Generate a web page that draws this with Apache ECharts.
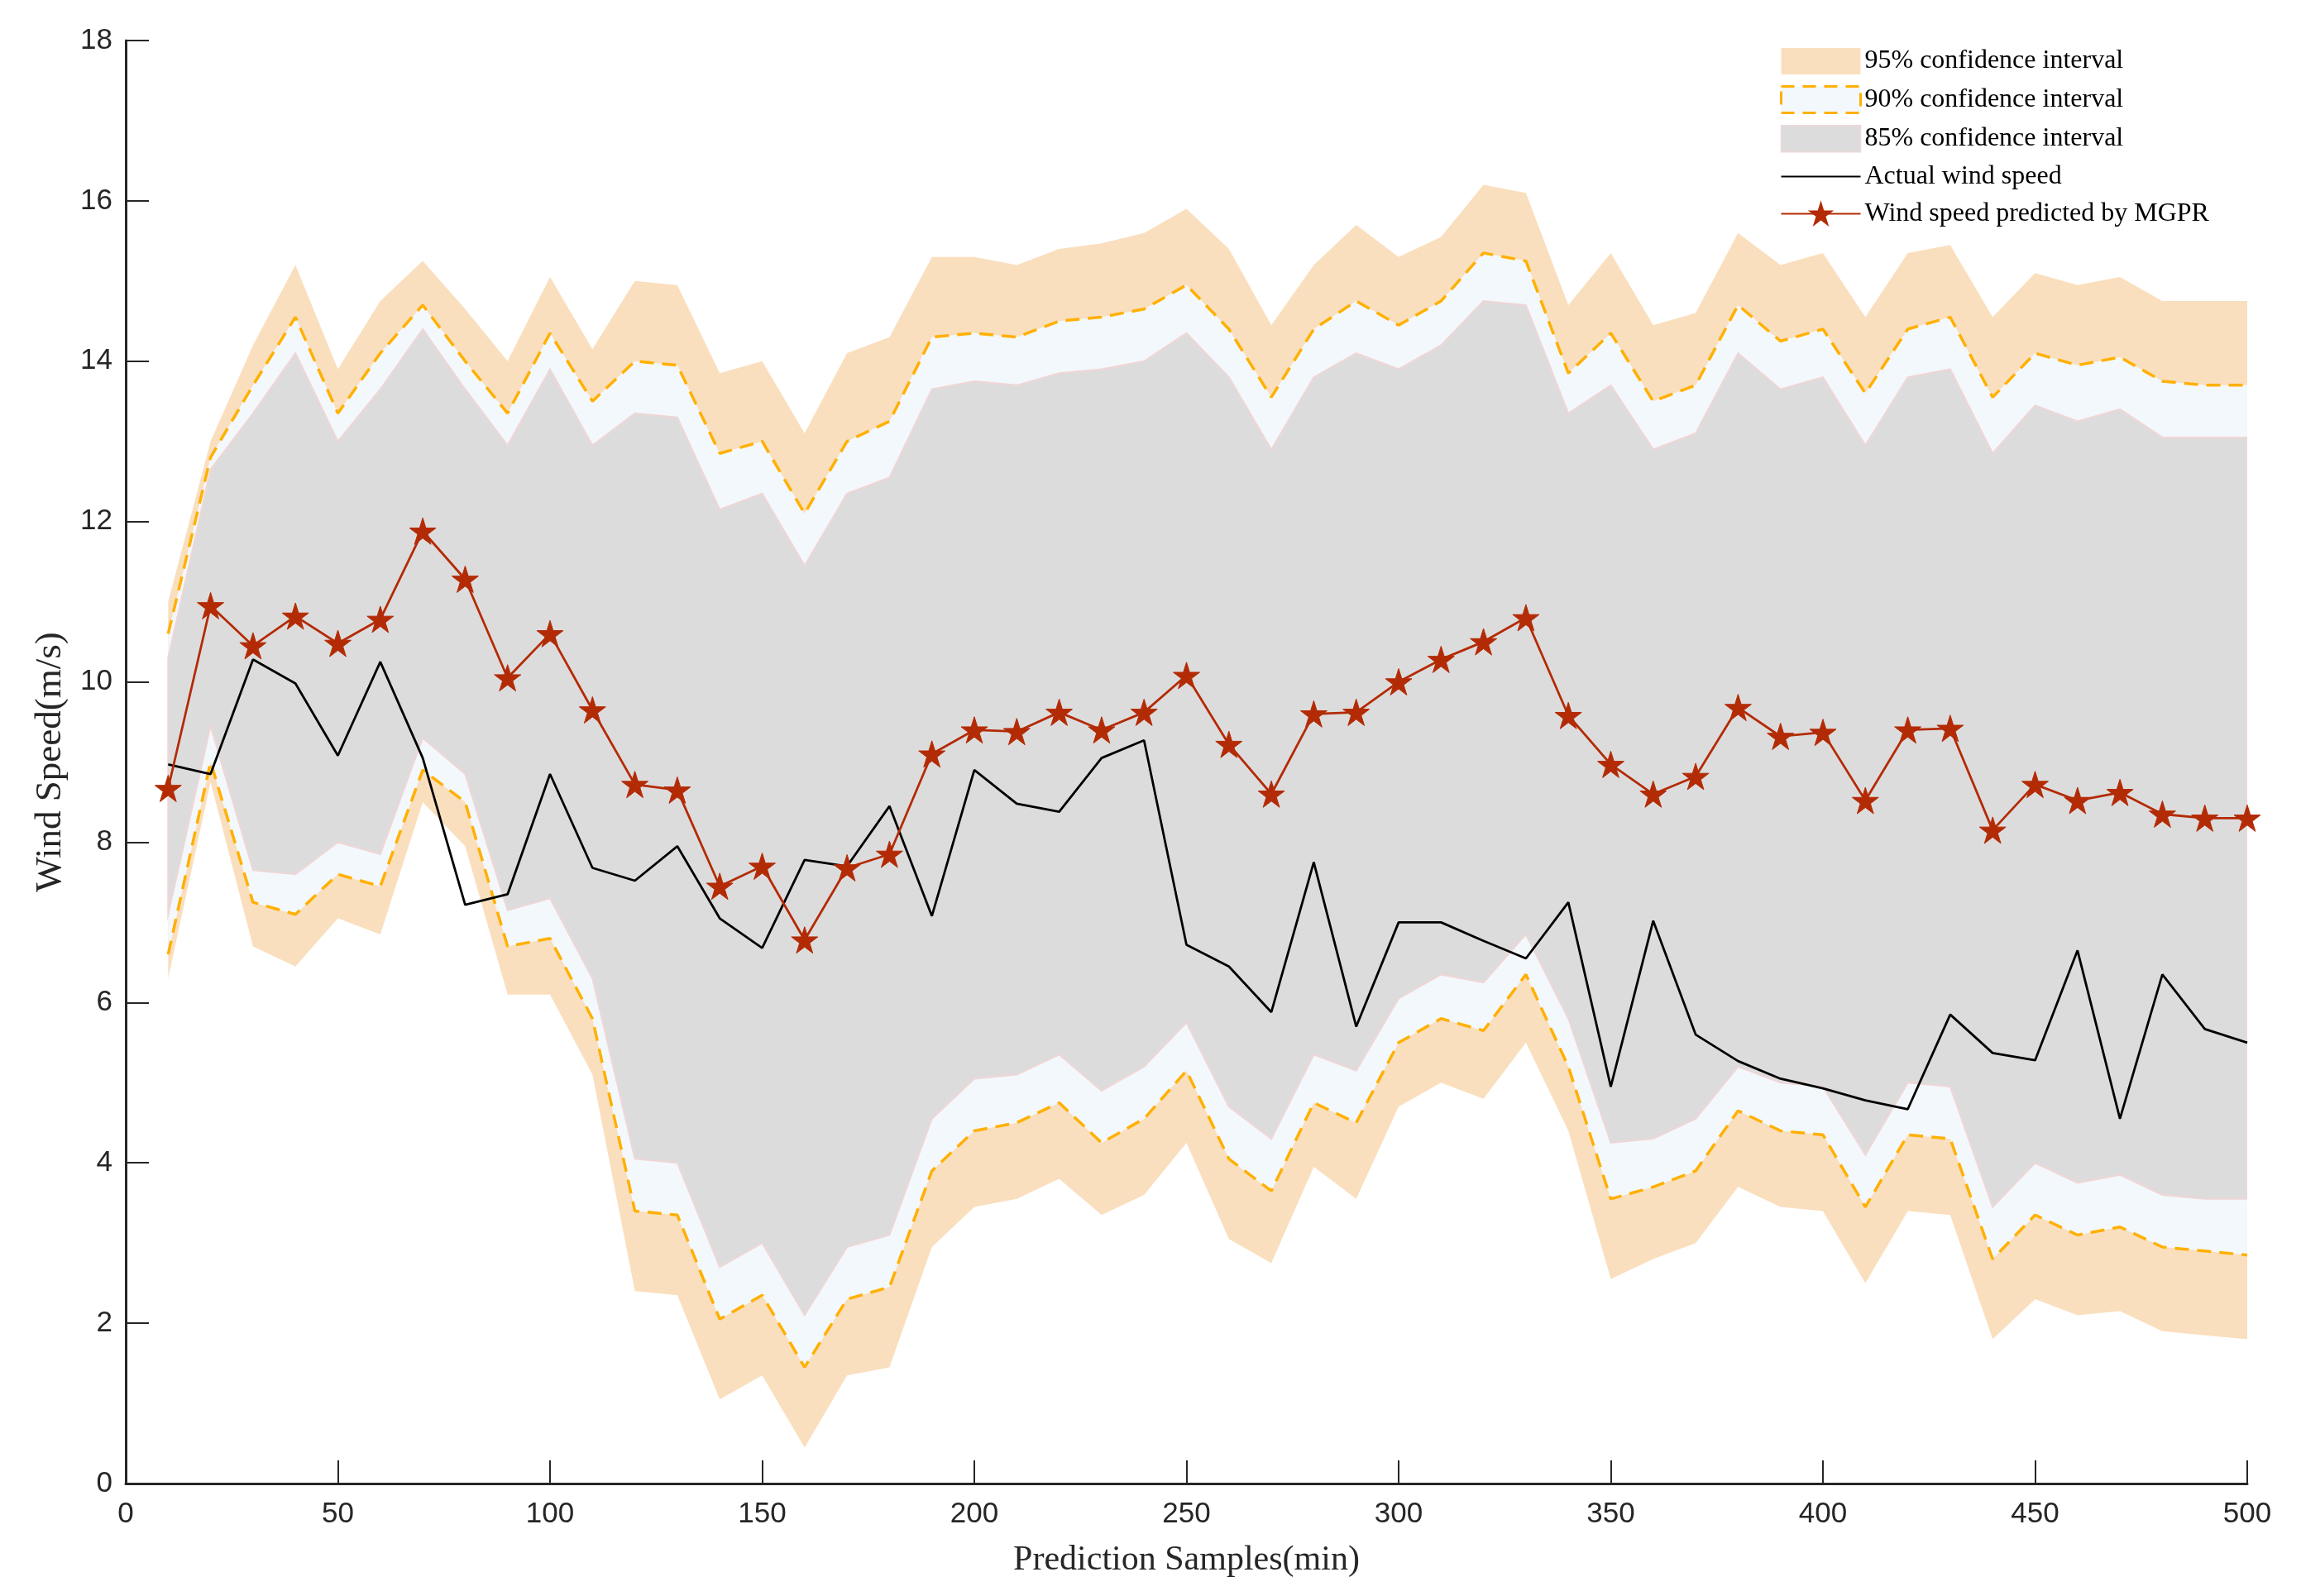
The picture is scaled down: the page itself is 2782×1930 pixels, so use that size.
<!DOCTYPE html>
<html><head><meta charset="utf-8">
<script src="https://cdn.jsdelivr.net/npm/echarts@6/dist/echarts.min.js"></script>
<style>html,body{margin:0;padding:0;background:#fff}#c{width:2782px;height:1930px}</style>
</head><body><div id="c"></div>
<script>
const samples = [10,20,30,40,50,60,70,80,90,100,110,120,130,140,150,160,170,180,190,200,210,220,230,240,250,260,270,280,290,300,310,320,330,340,350,360,370,380,390,400,410,420,430,440,450,460,470,480,490,500];
const xTicks = [0,50,100,150,200,250,300,350,400,450,500];
const yTicks = [0,2,4,6,8,10,12,14,16,18];

const predicted = [8.67,10.95,10.45,10.82,10.48,10.78,11.88,11.28,10.05,10.6,9.65,8.72,8.65,7.45,7.7,6.78,7.68,7.85,9.1,9.4,9.38,9.62,9.4,9.62,10.08,9.22,8.6,9.6,9.62,10.0,10.28,10.5,10.8,9.58,8.97,8.6,8.82,9.68,9.32,9.37,8.52,9.4,9.42,8.15,8.72,8.52,8.62,8.35,8.3,8.3];
const actual = [8.97,8.85,10.28,9.98,9.08,10.25,9.05,7.22,7.35,8.85,7.68,7.52,7.95,7.05,6.68,7.78,7.7,8.45,7.08,8.9,8.48,8.38,9.05,9.27,6.72,6.45,5.88,7.75,5.7,7.0,7.0,6.77,6.55,7.25,4.95,7.02,5.6,5.27,5.05,4.93,4.78,4.67,5.85,5.37,5.28,6.65,4.55,6.35,5.67,5.5];

const upper95 = [11.0,13.0,14.2,15.2,13.9,14.75,15.25,14.65,14.0,15.05,14.15,15.0,14.95,13.85,14.0,13.1,14.1,14.3,15.3,15.3,15.2,15.4,15.47,15.6,15.9,15.4,14.45,15.2,15.7,15.3,15.55,16.2,16.1,14.7,15.35,14.45,14.6,15.6,15.2,15.35,14.55,15.35,15.45,14.55,15.1,14.95,15.05,14.75,14.75,14.75];
const upper90 = [10.6,12.8,13.7,14.55,13.35,14.1,14.7,14.0,13.35,14.35,13.5,14.0,13.95,12.85,13.0,12.1,13.0,13.25,14.3,14.35,14.3,14.5,14.55,14.65,14.95,14.4,13.55,14.4,14.75,14.45,14.75,15.35,15.25,13.85,14.35,13.5,13.7,14.7,14.25,14.4,13.6,14.4,14.55,13.55,14.1,13.95,14.05,13.75,13.7,13.7];
const upper85 = [10.3,12.65,13.35,14.1,13.0,13.65,14.4,13.65,12.95,13.9,12.95,13.35,13.3,12.15,12.35,11.45,12.35,12.55,13.65,13.75,13.7,13.85,13.9,14.0,14.35,13.8,12.9,13.8,14.1,13.9,14.2,14.75,14.7,13.35,13.7,12.9,13.1,14.1,13.65,13.8,12.95,13.8,13.9,12.85,13.45,13.25,13.4,13.05,13.05,13.05];
const lower85 = [7.1,9.45,7.65,7.6,8.0,7.85,9.3,8.85,7.15,7.3,6.3,4.05,4.0,2.7,3.0,2.1,2.95,3.1,4.55,5.05,5.1,5.35,4.9,5.2,5.75,4.7,4.3,5.35,5.15,6.05,6.35,6.25,6.85,5.8,4.25,4.3,4.55,5.2,5.0,4.95,4.1,5.0,4.95,3.45,4.0,3.75,3.85,3.6,3.55,3.55];
const lower90 = [6.6,9.0,7.25,7.1,7.6,7.45,8.9,8.5,6.7,6.8,5.8,3.4,3.35,2.05,2.35,1.45,2.3,2.45,3.9,4.4,4.5,4.75,4.25,4.55,5.15,4.05,3.65,4.75,4.5,5.5,5.8,5.65,6.35,5.2,3.55,3.7,3.9,4.65,4.4,4.35,3.45,4.35,4.3,2.8,3.35,3.1,3.2,2.95,2.9,2.85];
const lower95 = [6.3,8.75,6.7,6.45,7.05,6.85,8.5,7.95,6.1,6.1,5.1,2.4,2.35,1.05,1.35,0.45,1.35,1.45,2.95,3.45,3.55,3.8,3.35,3.6,4.25,3.05,2.75,3.95,3.55,4.7,5.0,4.8,5.5,4.4,2.55,2.8,3.0,3.7,3.45,3.4,2.5,3.4,3.35,1.8,2.3,2.1,2.15,1.9,1.85,1.8];

const names = ['95% confidence interval','90% confidence interval','85% confidence interval','Actual wind speed','Wind speed predicted by MGPR'];

const C95 = '#FADFBE', C90 = '#F3F8FC', C85 = '#DDDCDD', CEDGE = '#F0D6D6', CDASH = '#FFB000', CRED = '#B32B05', AX = '#262626';
const STAR = 'path://M100 0 L122.45 69.1 L195.1 69.1 L136.3 111.8 L158.8 180.9 L100 138.2 L41.2 180.9 L63.7 111.8 L4.9 69.1 L77.55 69.1 Z';
const LINEICON = 'path://M0 0 L100 0 L100 2 L0 2 Z';

function pairs(arr){ return samples.map((x,i)=>[x,arr[i]]); }

function bandSeries(name, lo, up, color, edge){
  return {
    name:name, type:'custom', silent:true, clip:true,
    itemStyle:{color:color},
    data: samples.map((x,i)=>[x, lo[i], up[i]]),
    encode:{x:0, y:[1,2]},
    renderItem:function(params, api){
      if (params.dataIndex !== 0) return null;
      const pts = [];
      for (let i=0;i<samples.length;i++) pts.push(api.coord([samples[i], up[i]]));
      for (let i=samples.length-1;i>=0;i--) pts.push(api.coord([samples[i], lo[i]]));
      return {type:'polygon', shape:{points:pts},
        style: edge ? {fill:color, stroke:edge, lineWidth:2} : {fill:color}};
    }
  };
}

const option = {
  animation:false,
  backgroundColor:'#ffffff',
  grid:{left:152, right:65, top:49, bottom:136, containLabel:false},
  legend:{
    orient:'vertical', left:2147, top:53, itemWidth:96, itemHeight:32, itemGap:13,
    textStyle:{fontFamily:'Liberation Serif', fontSize:32, color:'#000', lineHeight:32},
    data:[
      {name:names[0], icon:'rect', itemStyle:{color:C95, borderWidth:0}},
      {name:names[1], icon:'rect', itemStyle:{color:C90, borderColor:CDASH, borderWidth:3, borderType:[16,10]}},
      {name:names[2], icon:'rect', itemStyle:{color:C85, borderColor:CEDGE, borderWidth:1.5}},
      {name:names[3], icon:LINEICON, itemStyle:{color:'#000', borderWidth:0}},
      {name:names[4]}
    ]
  },
  xAxis:{type:'value', min:0, max:500, interval:50, z:10,
    name:'Prediction Samples(min)', nameLocation:'middle', nameGap:72,
    nameTextStyle:{fontFamily:'Liberation Serif', fontSize:42, color:AX},
    axisLine:{show:true, onZero:false, lineStyle:{color:AX, width:3}},
    axisTick:{show:true, inside:true, length:28, lineStyle:{color:AX, width:2}},
    axisLabel:{margin:20, fontFamily:'Liberation Sans Narrow, Arial Narrow, Liberation Sans', fontSize:35, color:AX,
      formatter:v=>xTicks.includes(v)?String(v):''},
    splitLine:{show:false}},
  yAxis:{type:'value', min:0, max:18, interval:2, z:10,
    name:'Wind Speed(m/s)', nameLocation:'middle', nameGap:68, nameRotate:90,
    nameTextStyle:{fontFamily:'Liberation Serif', fontSize:45, color:AX},
    axisLine:{show:true, onZero:false, lineStyle:{color:AX, width:3}},
    axisTick:{show:true, inside:true, length:28, lineStyle:{color:AX, width:2}},
    axisLabel:{margin:16, fontFamily:'Liberation Sans Narrow, Arial Narrow, Liberation Sans', fontSize:35, color:AX,
      formatter:v=>yTicks.includes(v)?String(v):''},
    splitLine:{show:false}},
  series:[
    bandSeries(names[0], lower95, upper95, C95, null),
    bandSeries(names[1], lower90, upper90, C90, null),
    bandSeries(names[2], lower85, upper85, C85, CEDGE),
    {name:names[1], type:'line', data:pairs(upper90), symbol:'none', silent:true, itemStyle:{color:CDASH},
      lineStyle:{color:CDASH, width:3.5, type:[17,10]}},
    {name:names[1], type:'line', data:pairs(lower90), symbol:'none', silent:true, itemStyle:{color:CDASH},
      lineStyle:{color:CDASH, width:3.5, type:[17,10]}},
    {name:names[3], type:'line', data:pairs(actual), symbol:'none', itemStyle:{color:'#000'},
      lineStyle:{color:'#000', width:2.8}},
    {name:names[4], type:'line', data:pairs(predicted), symbol:STAR, symbolSize:32, showSymbol:true,
      itemStyle:{color:CRED, borderColor:CRED, borderWidth:1}, lineStyle:{color:CRED, width:2.8}}
  ]
};
const chart = echarts.init(document.getElementById('c'), null, {renderer:'canvas'});
chart.setOption(option);
</script></body></html>
